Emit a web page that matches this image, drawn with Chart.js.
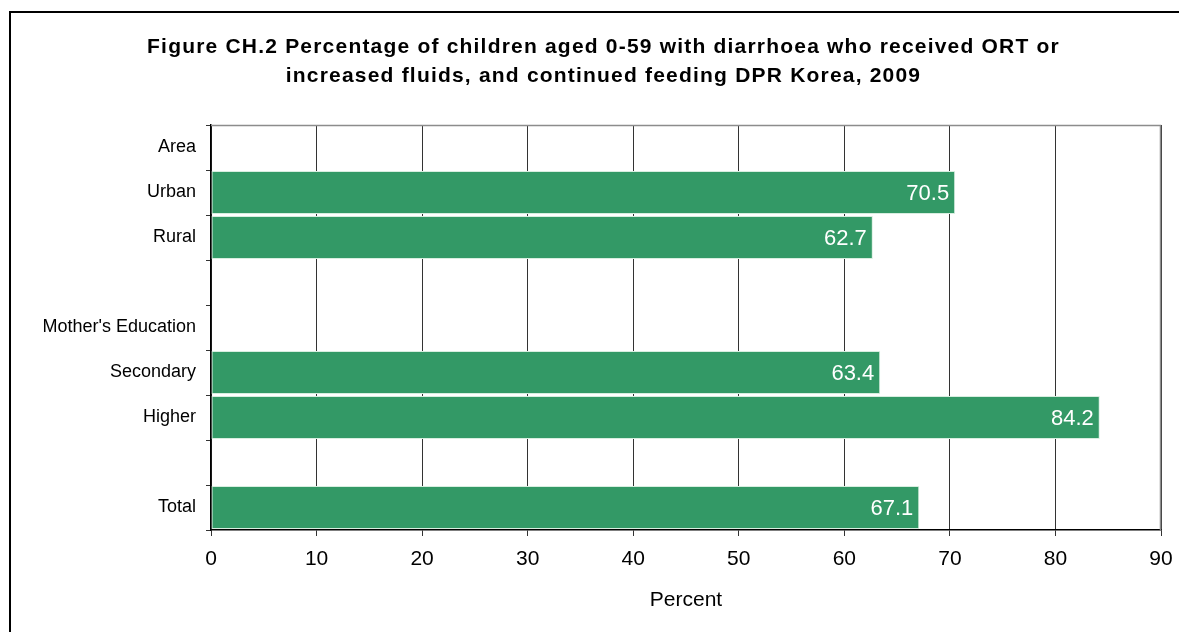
<!DOCTYPE html>
<html>
<head>
<meta charset="utf-8">
<script src="https://cdn.jsdelivr.net/npm/chart.js@4.4.1/dist/chart.umd.min.js"></script>
<style>
    html, body { margin: 0; padding: 0; background: #fff; }
    #wrap { width: 1179px; height: 632px; position: relative; }
</style>
</head>
<body>
<div id="wrap"><canvas id="ortChart" width="1179" height="632"></canvas></div>
<script>
// rows of the chart, top to bottom (blank rows are spacers / group headers)
var categories = ['Area', 'Urban', 'Rural', '', "Mother's Education", 'Secondary', 'Higher', '', 'Total'];
var percentValues = [null, 70.5, 62.7, null, null, 63.4, 84.2, null, 67.1];
var xTicks = [0, 10, 20, 30, 40, 50, 60, 70, 80, 90];
var titleLines = [
    'Figure CH.2 Percentage of children aged 0-59 with diarrhoea who received ORT or',
    'increased fluids, and continued feeding DPR Korea, 2009'
];

var FONT = "'Liberation Sans', Arial, sans-serif";

// outer frame + plot border (gray top/right)
var framePlugin = {
    id: 'frame',
    beforeDraw: function (chart) {
        var c = chart.ctx;
        c.save();
        c.fillStyle = '#fff';
        c.fillRect(0, 0, chart.width, chart.height);
        c.strokeStyle = '#000';
        c.lineWidth = 2;
        c.strokeRect(10, 12, chart.width + 20, chart.height + 20);
        c.restore();
    },
    afterDraw: function (chart) {
        var a = chart.chartArea;
        var c = chart.ctx;
        c.save();
        c.strokeStyle = '#8c8c8c';
        c.lineWidth = 1.5;
        c.beginPath();
        c.moveTo(a.left, a.top + 0.5);
        c.lineTo(a.right - 0.5, a.top + 0.5);
        c.lineTo(a.right - 0.5, a.bottom);
        c.stroke();
        c.restore();
    }
};

// the title in the original is letter-spaced and sits a bit right of centre
var titleTweak = {
    id: 'titleTweak',
    afterLayout: function (chart) {
        var tb = chart.titleBlock;
        if (!tb || tb._tweaked) return;
        var origDraw = tb.draw.bind(tb);
        tb.draw = function () {
            var c = chart.ctx;
            c.save();
            c.translate(8, 1);
            c.letterSpacing = '1.2px';
            origDraw();
            c.restore();
        };
        tb._tweaked = true;
    }
};

// white value labels at the inner end of each bar
var valueLabels = {
    id: 'valueLabels',
    afterDatasetsDraw: function (chart) {
        var c = chart.ctx;
        var meta = chart.getDatasetMeta(0);
        c.save();
        c.fillStyle = '#fff';
        c.font = '22px ' + FONT;
        c.textAlign = 'right';
        c.textBaseline = 'middle';
        meta.data.forEach(function (bar, i) {
            var v = percentValues[i];
            if (v === null) return;
            c.fillText(v.toFixed(1), bar.x - 6, bar.y + 1);
        });
        c.restore();
    }
};

var ctx = document.getElementById('ortChart').getContext('2d');

new Chart(ctx, {
    type: 'bar',
    data: {
        labels: categories,
        datasets: [{
            data: percentValues,
            backgroundColor: '#339966',
            borderColor: '#d8eee0',
            borderWidth: 1,
            borderSkipped: false,
            barPercentage: 0.955,
            categoryPercentage: 1
        }]
    },
    options: {
        indexAxis: 'y',
        responsive: false,
        animation: false,
        layout: { padding: { left: 30, right: 18, top: 0, bottom: 0 } },
        plugins: {
            legend: { display: false },
            tooltip: { enabled: false },
            title: {
                display: true,
                text: titleLines,
                color: '#000',
                font: { family: FONT, size: 21, weight: 'bold', lineHeight: '29px' },
                padding: { top: 31.5, bottom: 35.5 }
            }
        },
        scales: {
            x: {
                type: 'linear',
                min: 0,
                max: 90,
                afterBuildTicks: function (scale) {
                    scale.ticks = xTicks.map(function (v) { return { value: v }; });
                },
                afterFit: function (scale) {
                    scale.height = 102;
                    // let the "90" label hang into the right margin like the original
                    scale.paddingLeft = 0;
                    scale.paddingRight = 0;
                },
                grid: { color: '#333', lineWidth: 1, tickLength: 6 },
                border: { color: '#000', width: 1.5 },
                ticks: { color: '#000', font: { family: FONT, size: 21 }, padding: 11 },
                title: {
                    display: true,
                    text: 'Percent',
                    color: '#000',
                    font: { family: FONT, size: 21 },
                    padding: { top: 15.2, bottom: 19.4 }
                }
            },
            y: {
                afterFit: function (scale) { scale.width = 181; },
                grid: { drawOnChartArea: false, color: '#333', tickLength: 5, offset: true },
                border: { color: '#000', width: 1.5 },
                ticks: { color: '#000', font: { family: FONT, size: 18 }, padding: 10, autoSkip: false }
            }
        }
    },
    plugins: [framePlugin, titleTweak, valueLabels]
});
</script>
</body>
</html>
